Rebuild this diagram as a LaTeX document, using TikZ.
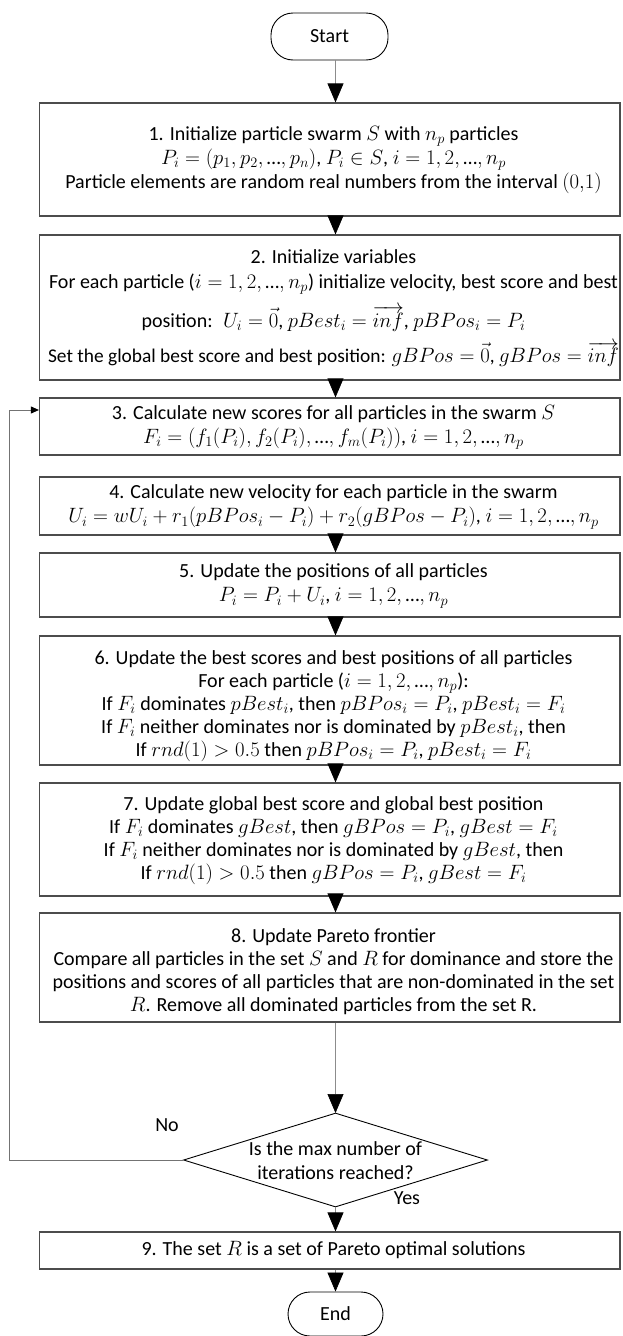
\documentclass[tikz,border=0pt]{standalone}
\usepackage{fontspec}
\setmainfont{Carlito}
\usetikzlibrary{arrows.meta,shapes.geometric}
\newcommand{\eli}{\mbox{…}}
\begin{document}
\begin{tikzpicture}[x=1pt,y=-1pt,
  frame/.style={draw=black!70, line width=1.2pt, minimum width=580.5pt, inner sep=0pt},
  txt/.style={align=center, font=\fontsize{20}{24}\selectfont, inner sep=0pt},
  term/.style={draw=black, line width=0.9pt, rounded corners=22pt, font=\fontsize{20}{24}\selectfont},
  conn/.style={draw=black!45, line width=0.7pt, -{Triangle[length=19pt,width=16pt,color=black]}},
  loopline/.style={draw=black!55, line width=0.9pt, -{Triangle[length=8pt,width=7pt,color=black]}},
  lbl/.style={font=\fontsize{20}{24}\selectfont, inner sep=0pt}
]
\useasboundingbox (0,0) rectangle (622,1336);
\coordinate (cx) at (335.5,0);

% terminals
\node[term, minimum width=117pt, minimum height=47pt] (start) at (329.5,36.5) {Start};

% boxes (frames)
\node[frame, minimum height=113pt] (b1) at (329.75,159.5) {};
\node[frame, minimum height=145pt] (b2) at (329.75,307.5) {};
\node[frame, minimum height=57pt] (b3) at (329.75,426.5) {};
\node[frame, minimum height=58pt] (b4) at (329.75,506) {};
\node[frame, minimum height=64pt] (b5) at (329.75,585) {};
\node[frame, minimum height=129pt] (b6) at (329.75,700.5) {};
\node[frame, minimum height=113pt] (b7) at (329.75,839.5) {};
\node[frame, minimum height=109pt] (b8) at (329.75,967.5) {};
\node[frame, minimum height=37pt] (b9) at (329.75,1250.5) {};

% decision
\node[diamond, draw=black, line width=0.9pt, minimum width=304pt, minimum height=94pt, inner sep=0pt] (dia) at (335.5,1160) {};
\coordinate (dtop) at (335.5,1113);

% texts
\node[txt] (t1) at (333.5,159.5) {1. Initialize particle swarm $S$ with $n_p$ particles\\
$P_i = (p_1, p_2, \eli, p_n)$, $P_i \in S$, $i = 1, 2, \eli, n_p$\\
Particle elements are random real numbers from the interval $(0{,}1)$};

\node[txt] (t2) at (333.5,308) {\medmuskip=3mu\thickmuskip=4mu 2. Initialize variables\\[1pt]
For each particle ($i = 1, 2, \eli, n_p$) initialize velocity, best score and best\\[11pt]
position:~ $U_i = \vec{0}$, $pBest_i = \overrightarrow{inf}$, $pBPos_i = P_i$\\[9pt]
{\fontsize{19.4}{24}\selectfont Set the global best score and best position: $gBPos = \vec{0}$, $gBPos = \overrightarrow{inf}$}};

\node[txt] (t3) at (333.5,427.5) {3. Calculate new scores for all particles in the swarm $S$\\
$F_i = \bigl(f_1(P_i), f_2(P_i), \eli, f_m(P_i)\bigr)$, $i = 1, 2, \eli, n_p$};

\node[txt] (t4) at (333.5,507) {4. Calculate new velocity for each particle in the swarm\\
$U_i = wU_i + r_1(pBPos_i - P_i) + r_2(gBPos - P_i)$, $i = 1, 2, \eli, n_p$};

\node[txt] (t5) at (333.5,586) {5. Update the positions of all particles\\
$P_i = P_i + U_i$, $i = 1, 2, \eli, n_p$};

\node[txt, font=\fontsize{20}{23}\selectfont] (t6) at (333.5,706) {6. Update the best scores and best positions of all particles\\
For each particle ($i = 1, 2, \eli, n_p$):\\
If $F_i$ dominates $pBest_i$, then $pBPos_i = P_i$, $pBest_i = F_i$\\
If $F_i$ neither dominates nor is dominated by $pBest_i$, then\\
If $rnd(1) > 0.5$ then $pBPos_i = P_i$, $pBest_i = F_i$};

\node[txt, font=\fontsize{20}{23}\selectfont] (t7) at (333.5,841) {7. Update global best score and global best position\\
If $F_i$ dominates $gBest$, then $gBPos = P_i$, $gBest = F_i$\\
If $F_i$ neither dominates nor is dominated by $gBest$, then\\
If $rnd(1) > 0.5$ then $gBPos = P_i$, $gBest = F_i$};

\node[txt, font=\fontsize{20}{23}\selectfont] (t8) at (333.5,972) {8. Update Pareto frontier\\
Compare all particles in the set $S$ and $R$ for dominance and store the\\
positions and scores of all particles that are non-dominated in the set\\
$R$. Remove all dominated particles from the set R.};

\node[txt] (t9) at (333.5,1250.5) {9. The set $R$ is a set of Pareto optimal solutions};

\node[txt] (dt) at (335.5,1161) {Is the max number of\\ iterations reached?};
\node[lbl] (no) at (167,1125) {No};
\node[lbl] (yes) at (407,1198) {Yes};

\node[term, minimum width=95pt, minimum height=44pt] (end) at (335.5,1314) {End};

% connectors
\draw[conn] (start.south -| cx) -- (b1.north -| cx);
\draw[conn] (b1.south -| cx) -- (b2.north -| cx);
\draw[conn] (b2.south -| cx) -- (b3.north -| cx);
\draw[conn] (b4.south -| cx) -- (b5.north -| cx);
\draw[conn] (b5.south -| cx) -- (b6.north -| cx);
\draw[conn] (b6.south -| cx) -- (b7.north -| cx);
\draw[conn] (b7.south -| cx) -- (b8.north -| cx);
\draw[conn] (b8.south -| cx) -- (dtop);
\draw[conn] (dia.south -| cx) -- (b9.north -| cx);
\draw[conn] (b9.south -| cx) -- (end.north);

% loop back
\coordinate (lx) at (9.5,410);
\draw[loopline] (dia.west) -| (lx) -- (b3.west |- lx);
\end{tikzpicture}
\end{document}
